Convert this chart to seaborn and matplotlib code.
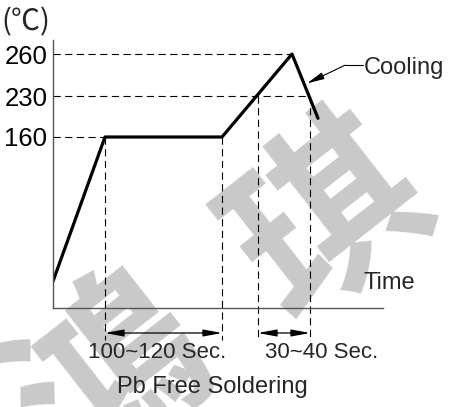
import numpy as np
import matplotlib
matplotlib.use('Agg')
import matplotlib.pyplot as plt
import seaborn as sns

# reflow profile (schematic): time in sec, temperature in C
profile_time = [0, 52, 169, 239, 265]
profile_temp = [25, 160, 160, 260, 192]

# dashed temperature levels and where they meet the curve
level_temps = [160, 230, 260]
level_labels = ['160', '230', '260']
level_ends = [52, 257, 239]

# dashed time markers (time, temperature where they start)
mark_times = [52, 169, 205, 257]
mark_tops = [160, 160, 230, 230]

spans = [(52, 169), (205, 257)]
span_labels = ['100~120 Sec.', '30~40 Sec.']

# the temperature axis is not to scale: temp -> drawn height
axis_temp = [-200, 0, 160, 230, 260, 400]
axis_px = [-200, 0, 171, 212, 254, 394]

W, H = 451, 407

sns.set_theme(style='white')
plt.rcParams['font.family'] = ['Liberation Sans', 'DejaVu Sans']


def fx(px):
    return px / W


def fy(py):
    return 1 - py / H


fig = plt.figure(figsize=(W / 100, H / 100), dpi=100)
ax = fig.add_axes([fx(53), fy(308), 330 / W, 268 / H])
ax.patch.set_visible(False)

ax.set_yscale('function', functions=(
    lambda t: np.interp(t, axis_temp, axis_px),
    lambda p: np.interp(p, axis_px, axis_temp)))
ax.set_xlim(0, 330)
ax.set_ylim(0, 274)

# watermark behind everything
wm_color = '#c9c9c9'
fig.text(fx(330), fy(222), '琪', fontsize=135, color=wm_color,
         family='Noto Sans CJK TC', weight='bold', rotation=38,
         ha='center', va='center', zorder=-5)
fig.text(fx(112), fy(378), '鴻', fontsize=135, color=wm_color,
         family='Noto Sans CJK TC', weight='bold', rotation=38,
         ha='center', va='center', zorder=-5)

dash = (0, (6.5, 4))

# level lines
for temp, end in zip(level_temps, level_ends):
    ax.plot([0, end], [temp, temp], color='black', lw=0.8, ls=dash)

# vertical markers, running below the time axis
for t, top in zip(mark_times, mark_tops):
    ax.plot([t, t], [top, -32], color='black', lw=0.8, ls=dash, clip_on=False)

# the profile curve
sns.lineplot(x=profile_time, y=profile_temp, ax=ax, color='black',
             linewidth=2.3, estimator=None)

# span arrows
for (t1, t2) in spans:
    ax.annotate('', xy=(t2, -25), xytext=(t1, -25), annotation_clip=False,
                arrowprops=dict(arrowstyle='<|-|>,head_length=0.75,head_width=0.14',
                                mutation_scale=15, lw=0.9, color='black',
                                shrinkA=0, shrinkB=0))

# cooling leader
ax.plot([292, 310], [252, 252], color='black', lw=0.8, clip_on=False)
ax.annotate('', xy=(254, 239), xytext=(292, 252), annotation_clip=False,
            arrowprops=dict(arrowstyle='-|>,head_length=0.7,head_width=0.14',
                            mutation_scale=15, lw=0.8, color='black',
                            shrinkA=0, shrinkB=0))

# axes styling
sns.despine(ax=ax)
for side in ['left', 'bottom']:
    ax.spines[side].set_color('#555555')
    ax.spines[side].set_linewidth(1.0)
ax.set_xticks([])
ax.set_yticks(level_temps, level_labels)
ax.tick_params(axis='y', length=0, pad=4, labelsize=18.5, labelcolor='black')
ax.set_xlabel('')
ax.set_ylabel('')

# free text
fig.text(fx(26), fy(22), '(℃)', fontsize=21, ha='center', va='center',
         family=['Noto Sans CJK TC', 'DejaVu Sans'])
fig.text(fx(364), fy(68), 'Cooling', fontsize=17, ha='left', va='center')
fig.text(fx(363), fy(283), 'Time', fontsize=17, ha='left', va='center')
fig.text(fx(157), fy(353), span_labels[0], fontsize=16, ha='center', va='center')
fig.text(fx(322), fy(353), span_labels[1], fontsize=16, ha='center', va='center')
fig.text(fx(212), fy(387), 'Pb Free Soldering', fontsize=17, ha='center', va='center')

fig.savefig('out.png', dpi=100)
plt.close(fig)
